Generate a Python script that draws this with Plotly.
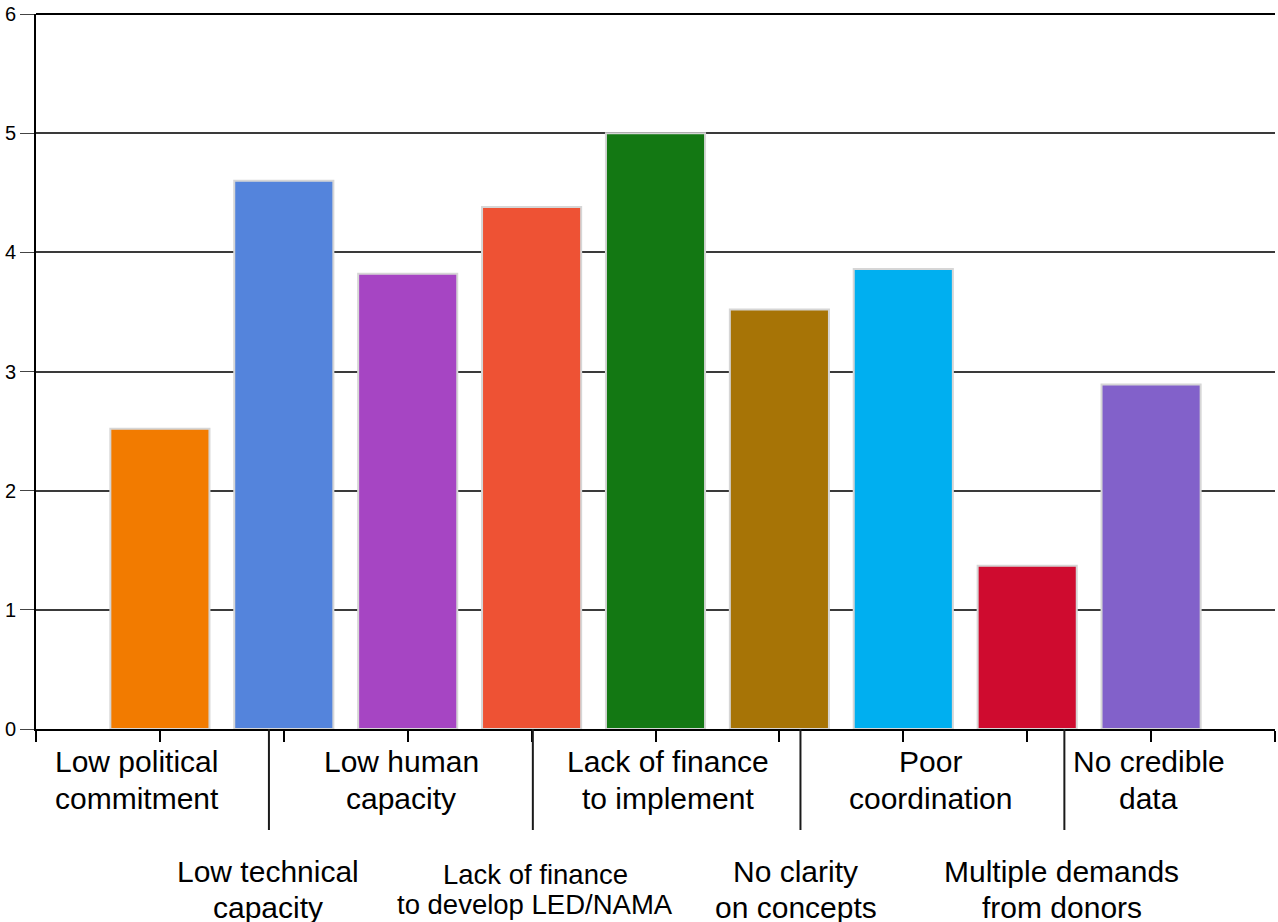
import plotly.graph_objects as go

# ---- data ----
label_first_lines = [
    "Low political", "Low technical", "Low human", "Lack of finance",
    "Lack of finance", "No clarity", "Poor", "Multiple demands", "No credible",
]
label_second_lines = [
    "commitment", "capacity", "capacity", "to develop LED/NAMA",
    "to implement", "on concepts", "coordination", "from donors", "data",
]
values = [2.52, 4.60, 3.82, 4.38, 5.00, 3.52, 3.86, 1.37, 2.89]
y_ticks = [0, 1, 2, 3, 4, 5, 6]
categories = [a + " " + b for a, b in zip(label_first_lines, label_second_lines)]

# ---- styling / layout (not data) ----
bar_colors = ["#f27b00", "#5484dc", "#a645c3", "#ee5234", "#137813",
              "#a77406", "#00aff0", "#cf0b2f", "#8261ca"]
label_x = [0.815, 1.87, 2.946, 4.03, 5.10, 6.13, 7.22, 8.28, 8.98]
label_row = [0, 1, 0, 1, 0, 1, 0, 1, 0]
label_size = [30, 30, 30, 27.5, 30, 30, 30, 30, 30]
separator_x = [1.88, 4.01, 6.17, 8.30]
bar_positions = list(range(1, len(values) + 1))

PLOT_BOTTOM_PX = 729
PLOT_HEIGHT_PX = 715


def px_to_paper(py):
    return (PLOT_BOTTOM_PX - py) / PLOT_HEIGHT_PX


# line centre pixel rows: [row][line]
row_line_px = [[761.5, 798.0], [871.0, 907.0]]
small_line_px = [875.0, 904.5]

FONT = "Arial, Liberation Sans, sans-serif"

fig = go.Figure()
fig.add_trace(go.Bar(
    x=bar_positions,
    y=values,
    width=0.8,
    marker=dict(color=bar_colors, line=dict(color="#d6d6d6", width=2)),
    hovertext=categories,
    showlegend=False,
))

annotations = []
for i in range(len(values)):
    if label_size[i] < 30:
        ys = small_line_px
    else:
        ys = row_line_px[label_row[i]]
    for txt, py in zip((label_first_lines[i], label_second_lines[i]), ys):
        annotations.append(dict(
            x=label_x[i], xref="x", y=px_to_paper(py), yref="paper",
            text=txt, showarrow=False, xanchor="center", yanchor="middle",
            align="center",
            font=dict(family=FONT, size=label_size[i], color="#000000"),
        ))

shapes = []
for sx in separator_x:
    shapes.append(dict(type="line", xref="x", yref="paper",
                       x0=sx, x1=sx, y0=0, y1=px_to_paper(830),
                       line=dict(color="#1a1a1a", width=2)))
# darker top border line at the maximum of the y range
shapes.append(dict(type="line", xref="paper", yref="paper",
                   x0=0, x1=1, y0=1, y1=1,
                   line=dict(color="#000000", width=2)))

fig.update_layout(
    width=1278, height=922,
    margin=dict(l=36, r=3, t=14, b=193),
    paper_bgcolor="white", plot_bgcolor="white",
    annotations=annotations,
    shapes=shapes,
    font=dict(family=FONT, color="#000000"),
    xaxis=dict(
        range=[0, 10], tickmode="array", tickvals=list(range(0, 11)),
        showticklabels=False, ticks="outside", ticklen=11, tickwidth=1.5,
        tickcolor="#000000", showline=True, linecolor="#000000", linewidth=2,
        showgrid=False, zeroline=False, fixedrange=True,
    ),
    yaxis=dict(
        range=[0, 6], tickmode="array", tickvals=y_ticks,
        ticktext=[str(t) for t in y_ticks],
        ticks="outside", ticklen=14, tickwidth=1.2, tickcolor="#444444",
        tickfont=dict(family=FONT, size=20, color="#000000"),
        showline=True, linecolor="#000000", linewidth=2,
        showgrid=True, gridcolor="#3a3a3a", gridwidth=1.5,
        zeroline=False, fixedrange=True, automargin=False,
    ),
)

fig.write_html("out.html")
